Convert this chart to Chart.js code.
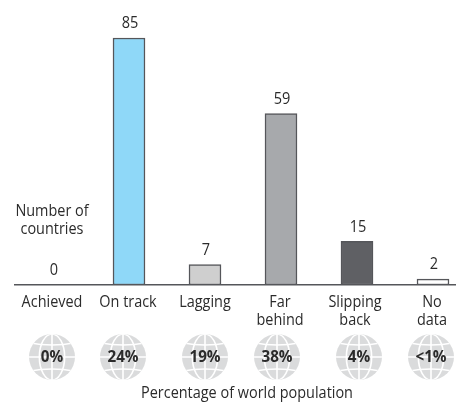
<!DOCTYPE html>
<html><head><meta charset="utf-8">
<style>html,body{margin:0;padding:0;background:#fff;overflow:hidden;width:456px;height:402px}canvas{display:block}</style>
<script src="https://cdn.jsdelivr.net/npm/chart.js"></script></head>
<body><canvas id="c" width="471" height="402"></canvas>
<script>
const categories=[['Achieved'],['On track'],['Lagging'],['Far','behind'],['Slipping','back'],['No','data']];
const counts=[0,85,7,59,15,2];
const shares=['0%','24%','19%','38%','4%','<1%'];
const barColors=['#ffffff','#8fd8f8','#cfcfcf','#a7a9ac','#5f6064','#ffffff'];
const yAxisTitle=['Number of','countries'];
const xAxisTitle='Percentage of world population';
const globeShift=[-1,-6,0,-4,2,-2];
const labelShift=[-1,-1,0,-1,-2,-1];
const textFont='"Open Sans"';
const txt='#2b2b2b';
function narrow(c,s,x,y,k){c.save();c.translate(x,y);c.scale(k,1);c.fillText(s,0,0);c.restore();}
const overlay={id:'overlay',afterDatasetsDraw(ch){
  const c=ch.ctx,x=ch.scales.x,y=ch.scales.y;
  c.save();c.textAlign='center';c.textBaseline='middle';c.fillStyle=txt;
  c.font='16.5px '+textFont;
  ch.getDatasetMeta(0).data.forEach((b,i)=>{
    narrow(c,String(counts[i]),b.x+1,y.getPixelForValue(counts[i])-14.5,0.88);
    categories[i].forEach((t,j)=>narrow(c,t,x.getPixelForValue(i)+labelShift[i],302+j*18,0.875));
  });
  narrow(c,yAxisTitle[0],52,211,0.875);narrow(c,yAxisTitle[1],52,229,0.875);
  narrow(c,xAxisTitle,247,393,0.875);
  shares.forEach((s,i)=>{
    const cx=x.getPixelForValue(i)+globeShift[i],cy=357,r=23;
    c.save();
    c.beginPath();c.arc(cx,cy,r,0,Math.PI*2);c.fillStyle='#dadbdc';c.fill();
    c.clip();
    c.strokeStyle='#fff';c.lineWidth=1.6;
    c.beginPath();c.moveTo(cx-r,cy);c.lineTo(cx+r,cy);c.moveTo(cx,cy-r);c.lineTo(cx,cy+r);c.stroke();
    c.beginPath();c.ellipse(cx,cy,r*0.55,r,0,0,Math.PI*2);c.stroke();
    c.beginPath();c.moveTo(cx-r,cy-r*0.62);c.quadraticCurveTo(cx,cy-r*0.42,cx+r,cy-r*0.62);c.stroke();
    c.beginPath();c.moveTo(cx-r,cy+r*0.62);c.quadraticCurveTo(cx,cy+r*0.42,cx+r,cy+r*0.62);c.stroke();
    c.restore();
    c.font='bold 16px '+textFont;c.fillStyle=txt;
    narrow(c,s,cx,cy+0.5,0.95);
  });
  c.restore();
}};
new Chart(document.getElementById('c'),{
  type:'bar',
  data:{labels:categories,datasets:[{data:counts,backgroundColor:barColors,borderColor:'#55565a',borderWidth:1.5,barThickness:32,borderSkipped:false}]},
  options:{
    responsive:false,animation:false,
    layout:{padding:{left:15,right:0,top:0,bottom:0}},
    plugins:{legend:{display:false},tooltip:{enabled:false}},
    scales:{
      x:{grid:{display:false,drawTicks:false},border:{color:'#55565a',width:1.5},
         afterFit(s){s.height=117;},
         ticks:{display:false}},
      y:{display:false,min:0,max:98.07}
    }
  },
  plugins:[overlay]
});
</script></body></html>
